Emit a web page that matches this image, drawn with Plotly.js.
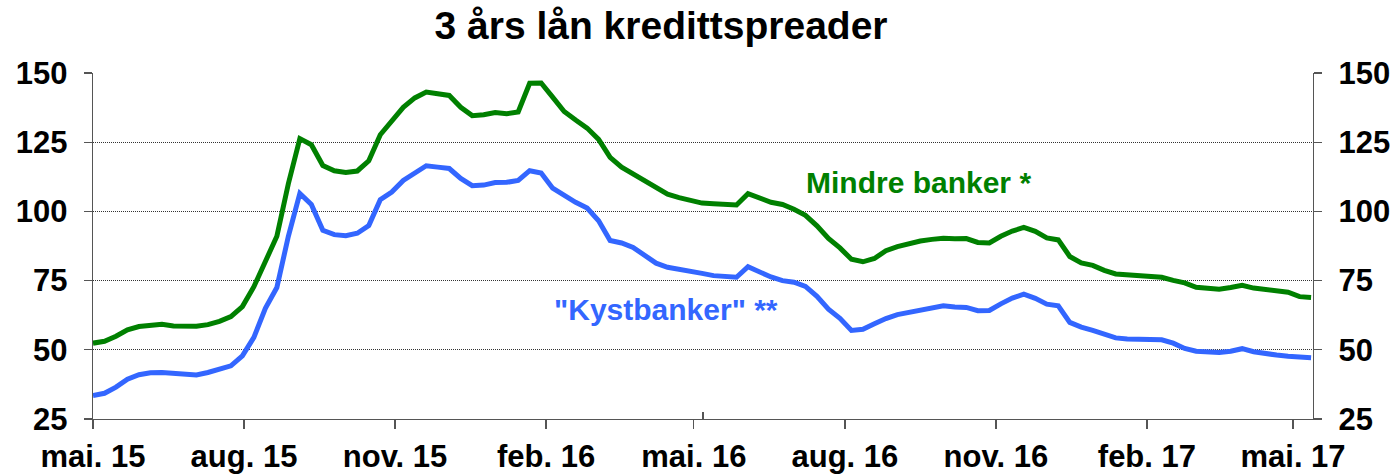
<!DOCTYPE html>
<html>
<head>
<meta charset="utf-8">
<script src="https://cdn.plot.ly/plotly-3.0.1.min.js"></script>
<style>html,body{margin:0;padding:0;background:#fff;}#chart{width:1399px;height:474px;}</style>
</head>
<body>
<div id="chart"></div>
<script>
// Weekly observations, first one on this date
const startDate = '2015-05-01';

// "Mindre banker *" (green)
const mindreBanker = [
  52.4, 53.1, 54.9, 57.2, 58.4, 58.9, 59.2, 58.6, 58.4, 58.5,
  59.1, 60.3, 62.0, 65.6, 72.8, 82.0, 91.0, 110.0, 126.3, 124.1,
  116.6, 114.7, 114.1, 114.6, 118.3, 127.7, 132.8, 137.6, 141.0, 143.1,
  142.5, 141.9, 137.6, 134.6, 134.9, 135.7, 135.3, 135.9, 146.3, 146.4,
  141.3, 136.1, 133.0, 130.1, 126.0, 119.5, 116.0, 113.5, 111.0, 108.5,
  106.2, 105.0, 103.8, 103.0, 102.8, 102.5, 102.3, 106.4, 105.0, 103.3,
  102.5, 100.8, 98.6, 94.8, 90.2, 86.8, 82.7, 81.8, 83.0, 85.8,
  87.3, 88.4, 89.3, 89.9, 90.3, 90.1, 90.2, 88.8, 88.6, 91.0,
  92.9, 94.2, 92.8, 90.4, 89.7, 83.7, 81.4, 80.5, 78.7, 77.4,
  77.1, 76.8, 76.5, 76.2, 75.1, 74.2, 72.6, 72.1, 71.9, 72.5,
  73.3, 72.3, 71.8, 71.2, 70.8, 69.2, 68.9
];

// "Kystbanker" ** (blue)
const kystbanker = [
  33.5, 34.3, 36.5, 39.4, 41.0, 41.7, 41.8, 41.4, 41.0, 40.9,
  41.8, 42.9, 44.2, 47.8, 54.5, 65.0, 72.5, 91.0, 106.5, 102.5,
  93.2, 91.6, 91.2, 92.1, 94.9, 104.2, 107.0, 111.2, 113.9, 116.5,
  116.0, 115.5, 111.9, 109.3, 109.5, 110.4, 110.5, 111.2, 114.7, 113.9,
  108.4, 105.7, 103.3, 101.2, 96.6, 89.5, 88.6, 87.0, 84.0, 81.3,
  79.8, 79.2, 78.2, 77.6, 76.8, 76.3, 76.2, 80.0, 78.0, 76.3,
  75.0, 74.4, 72.9, 69.3, 64.7, 61.4, 57.0, 57.4, 59.4, 61.3,
  62.7, 63.6, 64.3, 65.4, 65.9, 65.5, 65.3, 64.1, 64.2, 66.6,
  68.7, 70.1, 68.6, 66.5, 65.9, 59.9, 58.2, 57.0, 55.5, 54.3,
  53.9, 53.7, 53.6, 53.6, 52.4, 50.5, 49.5, 49.2, 49.0, 49.5,
  50.4, 49.3, 48.6, 48.1, 47.7, 47.4, 47.1
];

const xTickVals = ['2015-05-01','2015-08-01','2015-11-01','2016-02-01','2016-05-01',
                   '2016-08-01','2016-11-01','2017-02-01','2017-05-01'];
const xTickText = ['mai. 15','aug. 15','nov. 15','feb. 16','mai. 16',
                   'aug. 16','nov. 16','feb. 17','mai. 17'];
const yTickVals = [25, 50, 75, 100, 125, 150];
const yTickText = ['25', '50', '75', '100', '125', '150'];

const seriesNames = ['Mindre banker *', '"Kystbanker" **'];

// weekly dates
const dates = [];
(function () {
  const d0 = new Date(startDate + 'T00:00:00Z');
  for (let i = 0; i < mindreBanker.length; i++) {
    const d = new Date(d0.getTime() + i * 7 * 86400000);
    dates.push(d.toISOString().slice(0, 10));
  }
})();

const FONT = 'Liberation Sans, Arial, Helvetica, sans-serif';
const GREEN = '#008000';
const BLUE = '#3366ff';
const AXC = '#555555';

const traces = [
  {x: dates, y: mindreBanker, name: seriesNames[0], type: 'scatter', mode: 'lines',
   line: {color: GREEN, width: 5}, hoverinfo: 'skip'},
  {x: dates, y: kystbanker, name: seriesNames[1], type: 'scatter', mode: 'lines',
   line: {color: BLUE, width: 5}, hoverinfo: 'skip'},
  // empty helper traces so the right-hand axis and the secondary tick axis are drawn
  {x: [dates[0]], y: [null], xaxis: 'x', yaxis: 'y2', type: 'scatter', mode: 'lines',
   showlegend: false, hoverinfo: 'skip'},
  {x: [0], y: [null], xaxis: 'x2', yaxis: 'y', type: 'scatter', mode: 'lines',
   showlegend: false, hoverinfo: 'skip'}
];

const tickFont = {family: FONT, size: 31, color: '#000', weight: 'bold'};

const layout = {
  width: 1399, height: 474,
  margin: {l: 93, r: 86, t: 73, b: 55, pad: 0},
  paper_bgcolor: '#fff', plot_bgcolor: '#fff',
  showlegend: false,
  title: {
    text: '3 års lån kredittspreader',
    font: {family: FONT, size: 39, color: '#000', weight: 'bold'},
    x: 0.4725, xanchor: 'center', y: 0.947, yanchor: 'middle'
  },
  xaxis: {
    type: 'date', range: ['2015-05-01', '2017-05-13 04:00'],
    tickmode: 'array', tickvals: xTickVals, ticktext: xTickText,
    ticks: 'outside', ticklen: 9, tickwidth: 1.3, tickcolor: AXC,
    showline: true, linecolor: AXC, linewidth: 1.3,
    showgrid: false, zeroline: false, tickfont: tickFont,
    ticklabelstandoff: 0, fixedrange: true
  },
  xaxis2: {
    overlaying: 'x', anchor: 'y', side: 'bottom', range: [0, 2],
    tickmode: 'array', tickvals: [0, 1, 2], ticks: 'inside', ticklen: 7,
    tickwidth: 1.3, tickcolor: AXC, showticklabels: false,
    showgrid: false, showline: false, zeroline: false, fixedrange: true
  },
  yaxis: {
    range: [25, 150], tickmode: 'array', tickvals: yTickVals, ticktext: yTickText,
    ticks: 'outside', ticklen: 8, tickwidth: 1.3, tickcolor: AXC,
    showline: true, linecolor: AXC, linewidth: 1.3,
    showgrid: true, gridcolor: '#333', gridwidth: 1, griddash: '1px,1px',
    zeroline: false, tickfont: tickFont, ticklabelstandoff: 10, fixedrange: true
  },
  yaxis2: {
    overlaying: 'y', anchor: 'x', side: 'right', range: [25, 150],
    tickmode: 'array', tickvals: yTickVals, ticktext: yTickText,
    ticks: 'outside', ticklen: 8, tickwidth: 1.3, tickcolor: AXC,
    showline: true, linecolor: AXC, linewidth: 1.3,
    showgrid: false, zeroline: false, tickfont: tickFont, ticklabelstandoff: 10,
    fixedrange: true
  },
  annotations: [
    {x: '2016-09-15', y: 110.3, xref: 'x', yref: 'y', text: seriesNames[0],
     showarrow: false, xanchor: 'center', yanchor: 'middle',
     font: {family: FONT, size: 30, color: GREEN, weight: 'bold'}},
    {x: '2016-04-14', y: 64.4, xref: 'x', yref: 'y', text: seriesNames[1],
     showarrow: false, xanchor: 'center', yanchor: 'middle',
     font: {family: FONT, size: 30, color: BLUE, weight: 'bold'}}
  ]
};

Plotly.newPlot('chart', traces, layout, {displayModeBar: false, staticPlot: true});
</script>
</body>
</html>
